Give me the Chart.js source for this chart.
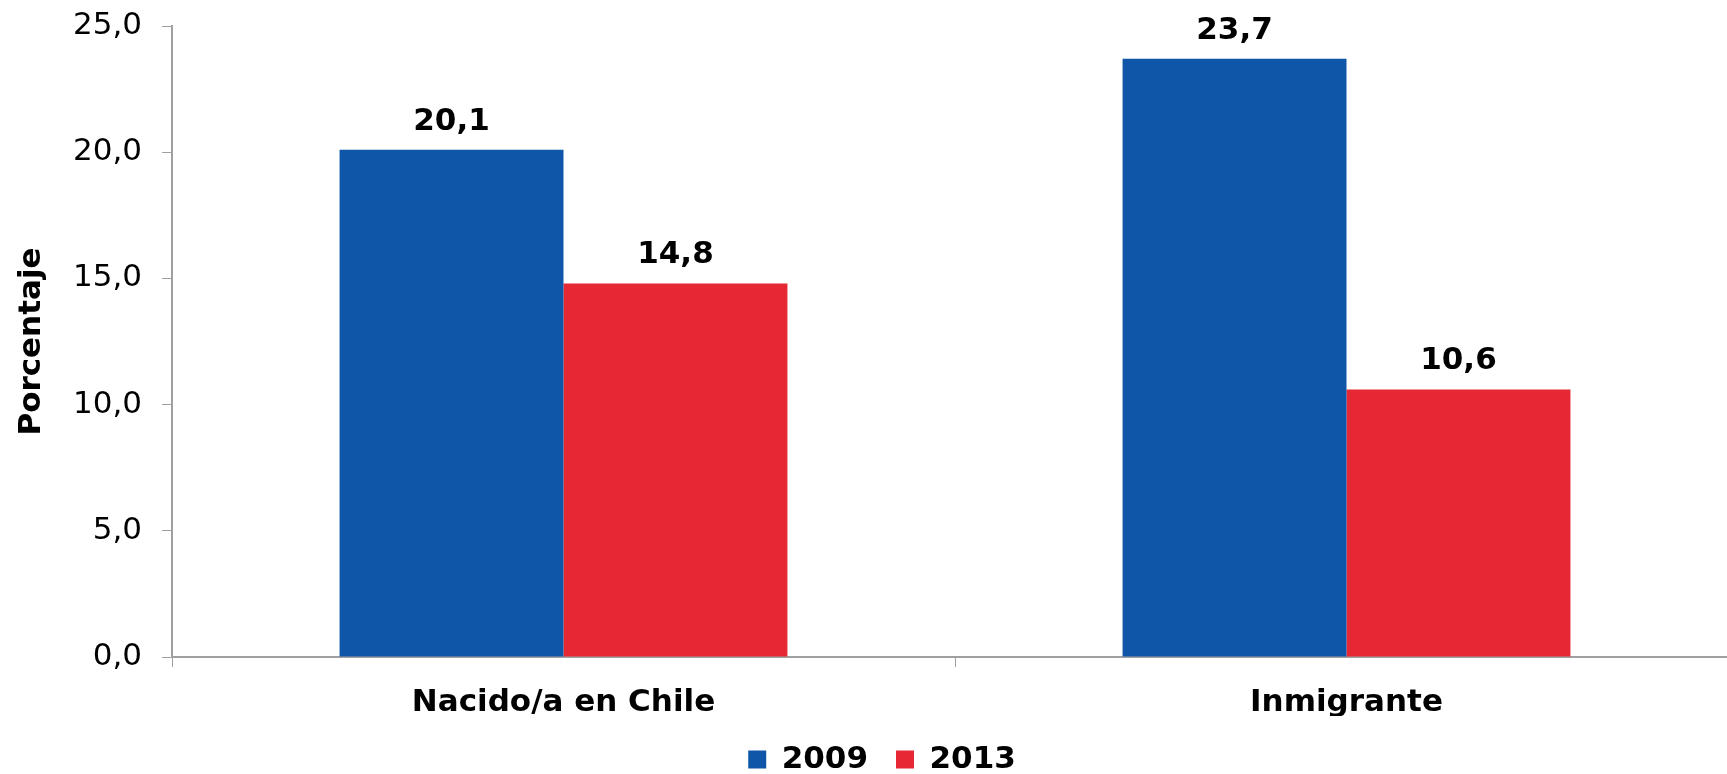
<!DOCTYPE html>
<html>
<head>
<meta charset="utf-8">
<script src="https://cdn.jsdelivr.net/npm/chart.js@4"></script>
<style>
  html, body { margin: 0; padding: 0; background: #fff; overflow: hidden; }
  #wrap { width: 1738px; height: 774px; }
</style>
</head>
<body>
<div id="wrap"><canvas id="chart"></canvas></div>
<script>
const categories = ['Nacido/a en Chile', 'Inmigrante'];
const years = ['2009', '2013'];
const values2009 = [20.1, 23.7];
const values2013 = [14.8, 10.6];
const yTicks = [0, 5, 10, 15, 20, 25];

const fmt = v => Number(v).toFixed(1).replace('.', ',');
const FONT = "'DejaVu Sans', Verdana, sans-serif";

// draws the value above each bar
const barLabels = {
    id: 'barLabels',
    afterDatasetsDraw(chart) {
        const ctx = chart.ctx;
        ctx.save();
        ctx.font = 'bold 31px ' + FONT;
        ctx.fillStyle = '#000';
        ctx.textAlign = 'center';
        ctx.textBaseline = 'alphabetic';
        chart.data.datasets.forEach((ds, i) => {
            chart.getDatasetMeta(i).data.forEach((bar, j) => {
                ctx.fillText(fmt(ds.data[j]), bar.x, bar.y - 20);
            });
        });
        ctx.restore();
    }
};

// nudge the legend a bit to the right, like the original
const legendShift = {
    id: 'legendShift',
    afterLayout(chart) {
        if (chart.legend) {
            chart.legend.left += 26;
        }
    }
};

new Chart(document.getElementById('chart').getContext('2d'), {
    type: 'bar',
    data: {
        labels: categories,
        datasets: [
            { label: years[0], data: values2009, backgroundColor: '#0F56A8' },
            { label: years[1], data: values2013, backgroundColor: '#E62835' }
        ]
    },
    options: {
        responsive: true,
        maintainAspectRatio: false,
        animation: false,
        layout: { padding: { top: 26, right: 0, bottom: -11, left: 0 } },
        plugins: {
            legend: {
                position: 'bottom',
                labels: {
                    font: { family: FONT, size: 31, weight: 'bold' },
                    color: '#000',
                    boxWidth: 18,
                    boxHeight: 18,
                    padding: 28
                }
            },
            tooltip: { enabled: false }
        },
        datasets: {
            bar: { barPercentage: 1, categoryPercentage: 0.572 }
        },
        scales: {
            x: {
                grid: { drawOnChartArea: false, tickLength: 10, color: '#A0A0A0', offset: true },
                border: { color: '#A0A0A0', width: 2 },
                ticks: {
                    font: { family: FONT, size: 31, weight: 'bold' },
                    color: '#000',
                    padding: 17
                },
                afterFit: s => {
                    s.height = 59;
                    s.paddingLeft = 0;
                    s.paddingRight = 0;
                }
            },
            y: {
                min: 0,
                max: 25,
                afterBuildTicks: s => { s.ticks = yTicks.map(v => ({ value: v })); },
                grid: { drawOnChartArea: false, tickLength: 10, color: '#A0A0A0' },
                border: { color: '#A0A0A0', width: 2 },
                ticks: {
                    font: { family: FONT, size: 31 },
                    color: '#000',
                    padding: 20,
                    callback: v => fmt(v)
                },
                title: {
                    display: true,
                    text: 'Porcentaje',
                    font: { family: FONT, size: 31, weight: 'bold' },
                    color: '#000',
                    padding: { top: 13, bottom: 0 }
                },
                afterFit: s => {
                    s.width = 172;
                    s.paddingTop = 0;
                    s.paddingBottom = 0;
                }
            }
        }
    },
    plugins: [barLabels, legendShift]
});
</script>
</body>
</html>
